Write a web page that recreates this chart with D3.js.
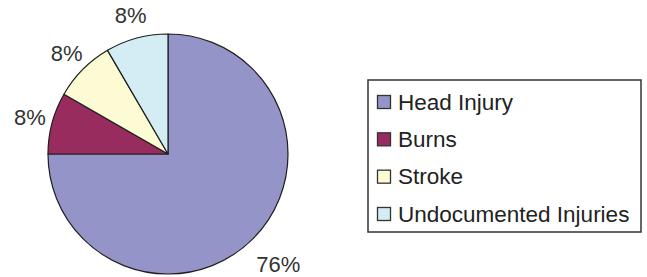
<!DOCTYPE html>
<html>
<head>
<meta charset="utf-8">
<script src="https://cdn.jsdelivr.net/npm/d3@7"></script>
<style>
  body { margin: 0; background: #fff; }
  text { font-family: "Liberation Sans", Arial, sans-serif; }
</style>
</head>
<body>
<svg id="chart" width="647" height="277"></svg>
<script>
const categories = ['Head Injury', 'Burns', 'Stroke', 'Undocumented Injuries'];
const sliceValues = [75, 8.3, 8.3, 8.4];
const pctLabels = ['76%', '8%', '8%', '8%'];
const colors = ['#9594c9', '#982c5f', '#fdfbd3', '#d4ecf3'];

const svg = d3.select('#chart');

const cx = 168, cy = 154, radius = 120;

const pie = d3.pie()
    .sort(null)
    .value(d => d.value);

const slices = pie(categories.map((c, i) => ({ name: c, value: sliceValues[i], label: pctLabels[i] })));

const arc = d3.arc()
    .innerRadius(0)
    .outerRadius(radius);

const g = svg.append('g')
    .attr('transform', `translate(${cx},${cy})`);

g.selectAll('path')
    .data(slices)
    .enter()
    .append('path')
    .attr('d', arc)
    .attr('fill', (d, i) => colors[i])
    .attr('stroke', '#1e1e1e')
    .attr('stroke-width', 1.2)
    .attr('stroke-linejoin', 'round');

// percent labels outside the slices
const labelR = d => (d.endAngle - d.startAngle > Math.PI ? radius + 36 : radius + 23);

g.selectAll('.pct')
    .data(slices)
    .enter()
    .append('text')
    .attr('class', 'pct')
    .attr('transform', d => {
        const r = labelR(d);
        const c = d3.arc().innerRadius(r).outerRadius(r).centroid(d);
        return `translate(${c[0]},${c[1]})`;
    })
    .attr('text-anchor', 'middle')
    .attr('dominant-baseline', 'central')
    .attr('font-size', 22)
    .attr('fill', '#333')
    .text(d => d.data.label);

// legend
const legend = svg.append('g')
    .attr('transform', 'translate(368,80)');

legend.append('rect')
    .attr('width', 273)
    .attr('height', 152)
    .attr('fill', '#fff')
    .attr('stroke', '#333')
    .attr('stroke-width', 1.5);

const rowY = d3.scalePoint()
    .domain(categories)
    .range([22, 134]);

const item = legend.selectAll('.item')
    .data(categories)
    .enter()
    .append('g')
    .attr('class', 'item')
    .attr('transform', d => `translate(0,${rowY(d)})`);

item.append('rect')
    .attr('x', 9.5)
    .attr('y', -6.5)
    .attr('width', 13)
    .attr('height', 13)
    .attr('fill', (d, i) => colors[i])
    .attr('stroke', '#333')
    .attr('stroke-width', 1.3);

item.append('text')
    .attr('x', 30)
    .attr('y', 0)
    .attr('dominant-baseline', 'central')
    .attr('font-size', 22.5)
    .attr('fill', '#222')
    .text(d => d);
</script>
</body>
</html>
